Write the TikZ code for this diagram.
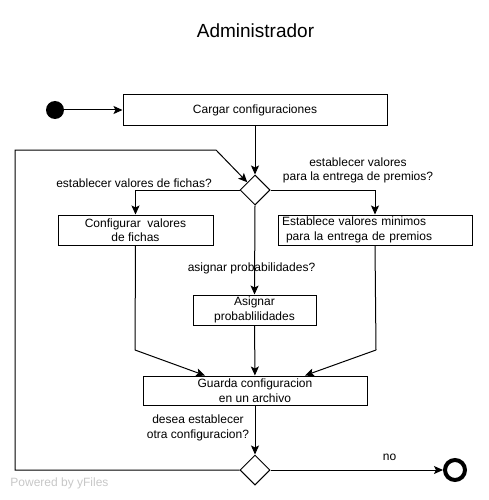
\documentclass[tikz,border=0pt]{standalone}
\usepackage{fontspec}
\setmainfont{Liberation Sans}
\usetikzlibrary{shapes.geometric,arrows.meta,calc}
\tikzset{
  txt/.style={font=\fontsize{12}{14.5}\selectfont},
  box/.style={txt, draw, line width=1pt, minimum height=30pt, inner sep=2pt, align=center},
  dec/.style={draw, diamond, minimum width=30pt, minimum height=30pt, inner sep=0pt, line width=1pt, fill=white},
  flow/.style={line width=1pt, -{Stealth[length=9pt,width=8pt,inset=2pt]}},
  plain/.style={line width=1pt},
  lbl/.style={txt, align=center, inner sep=0pt},
}
\begin{document}
\begin{tikzpicture}[x=1pt,y=-1pt]
\useasboundingbox (0,0) rectangle (488,500);
\node[font=\fontsize{19}{22}\selectfont, inner sep=0pt] (title) at (255.5,31) {Administrador};
\node[circle, fill=black, minimum size=18pt, inner sep=0pt] (start) at (55,110) {};
\node[box, minimum width=264pt] (cargar) at (255,110) {Cargar configuraciones};
\node[dec] (d1) at (255,190) {};
\node[box, minimum width=155pt] (conf) at (135.5,230) {Configurar\ \ valores\\de fichas};
\node[box, minimum width=194pt, text width=186pt, align=left] (estab) at (375,230) {Establece valores minimos\\ \ para la entrega de premios};
\node[box, minimum width=123pt] (asig) at (254.5,310) {Asignar\\ probablilidades};
\node[box, minimum width=224pt, minimum height=29pt] (guarda) at (255,390.5) {Guarda configuracion\\en un archivo};
\node[dec] (d2) at (255,470) {};
\node[circle, draw, line width=4pt, minimum size=20pt, inner sep=0pt] (end) at (455,470) {};

\node[lbl] (l1) at (134,183) {establecer valores de fichas?};
\node[lbl] (l2) at (358,170.5) {establecer valores\\para la entrega de premios?};
\node[lbl] (l3) at (251.5,268) {asignar probabilidades?};
\node[lbl] (l4) at (198,428) {desea establecer\\otra configuracion?};
\node[lbl] (l5) at (389.5,457) {no};
\node[lbl, text=black!22] (pw) at (59.5,483) {Powered by yFiles};

\coordinate (bL) at (135,350);
\coordinate (bR) at (376,350);
\coordinate (lpA) at (15,470);
\coordinate (lpB) at (15,150);
\coordinate (lpC) at (216,150);

\draw[flow] (start) -- (cargar);
\draw[flow] (cargar) -- (d1);
\draw[flow] (d1.west) -| (conf.north);
\draw[flow] (d1.east) -| (estab.north);
\draw[flow] (d1.south) -- (asig.north);
\draw[plain] (conf.south) -- (bL);
\draw[flow] (bL) -- ($(guarda.north)+(-50,0)$);
\draw[plain] (estab.south) -- (bR);
\draw[flow] (bR) -- ($(guarda.north)+(50,0)$);
\draw[flow] (asig) -- (guarda);
\draw[flow] (guarda) -- (d2);
\draw[flow] (d2.east) -- (end.west);
\draw[flow] (d2.west) -- (lpA) -- (lpB) -- (lpC) -- (d1.north west);
\end{tikzpicture}
\end{document}
